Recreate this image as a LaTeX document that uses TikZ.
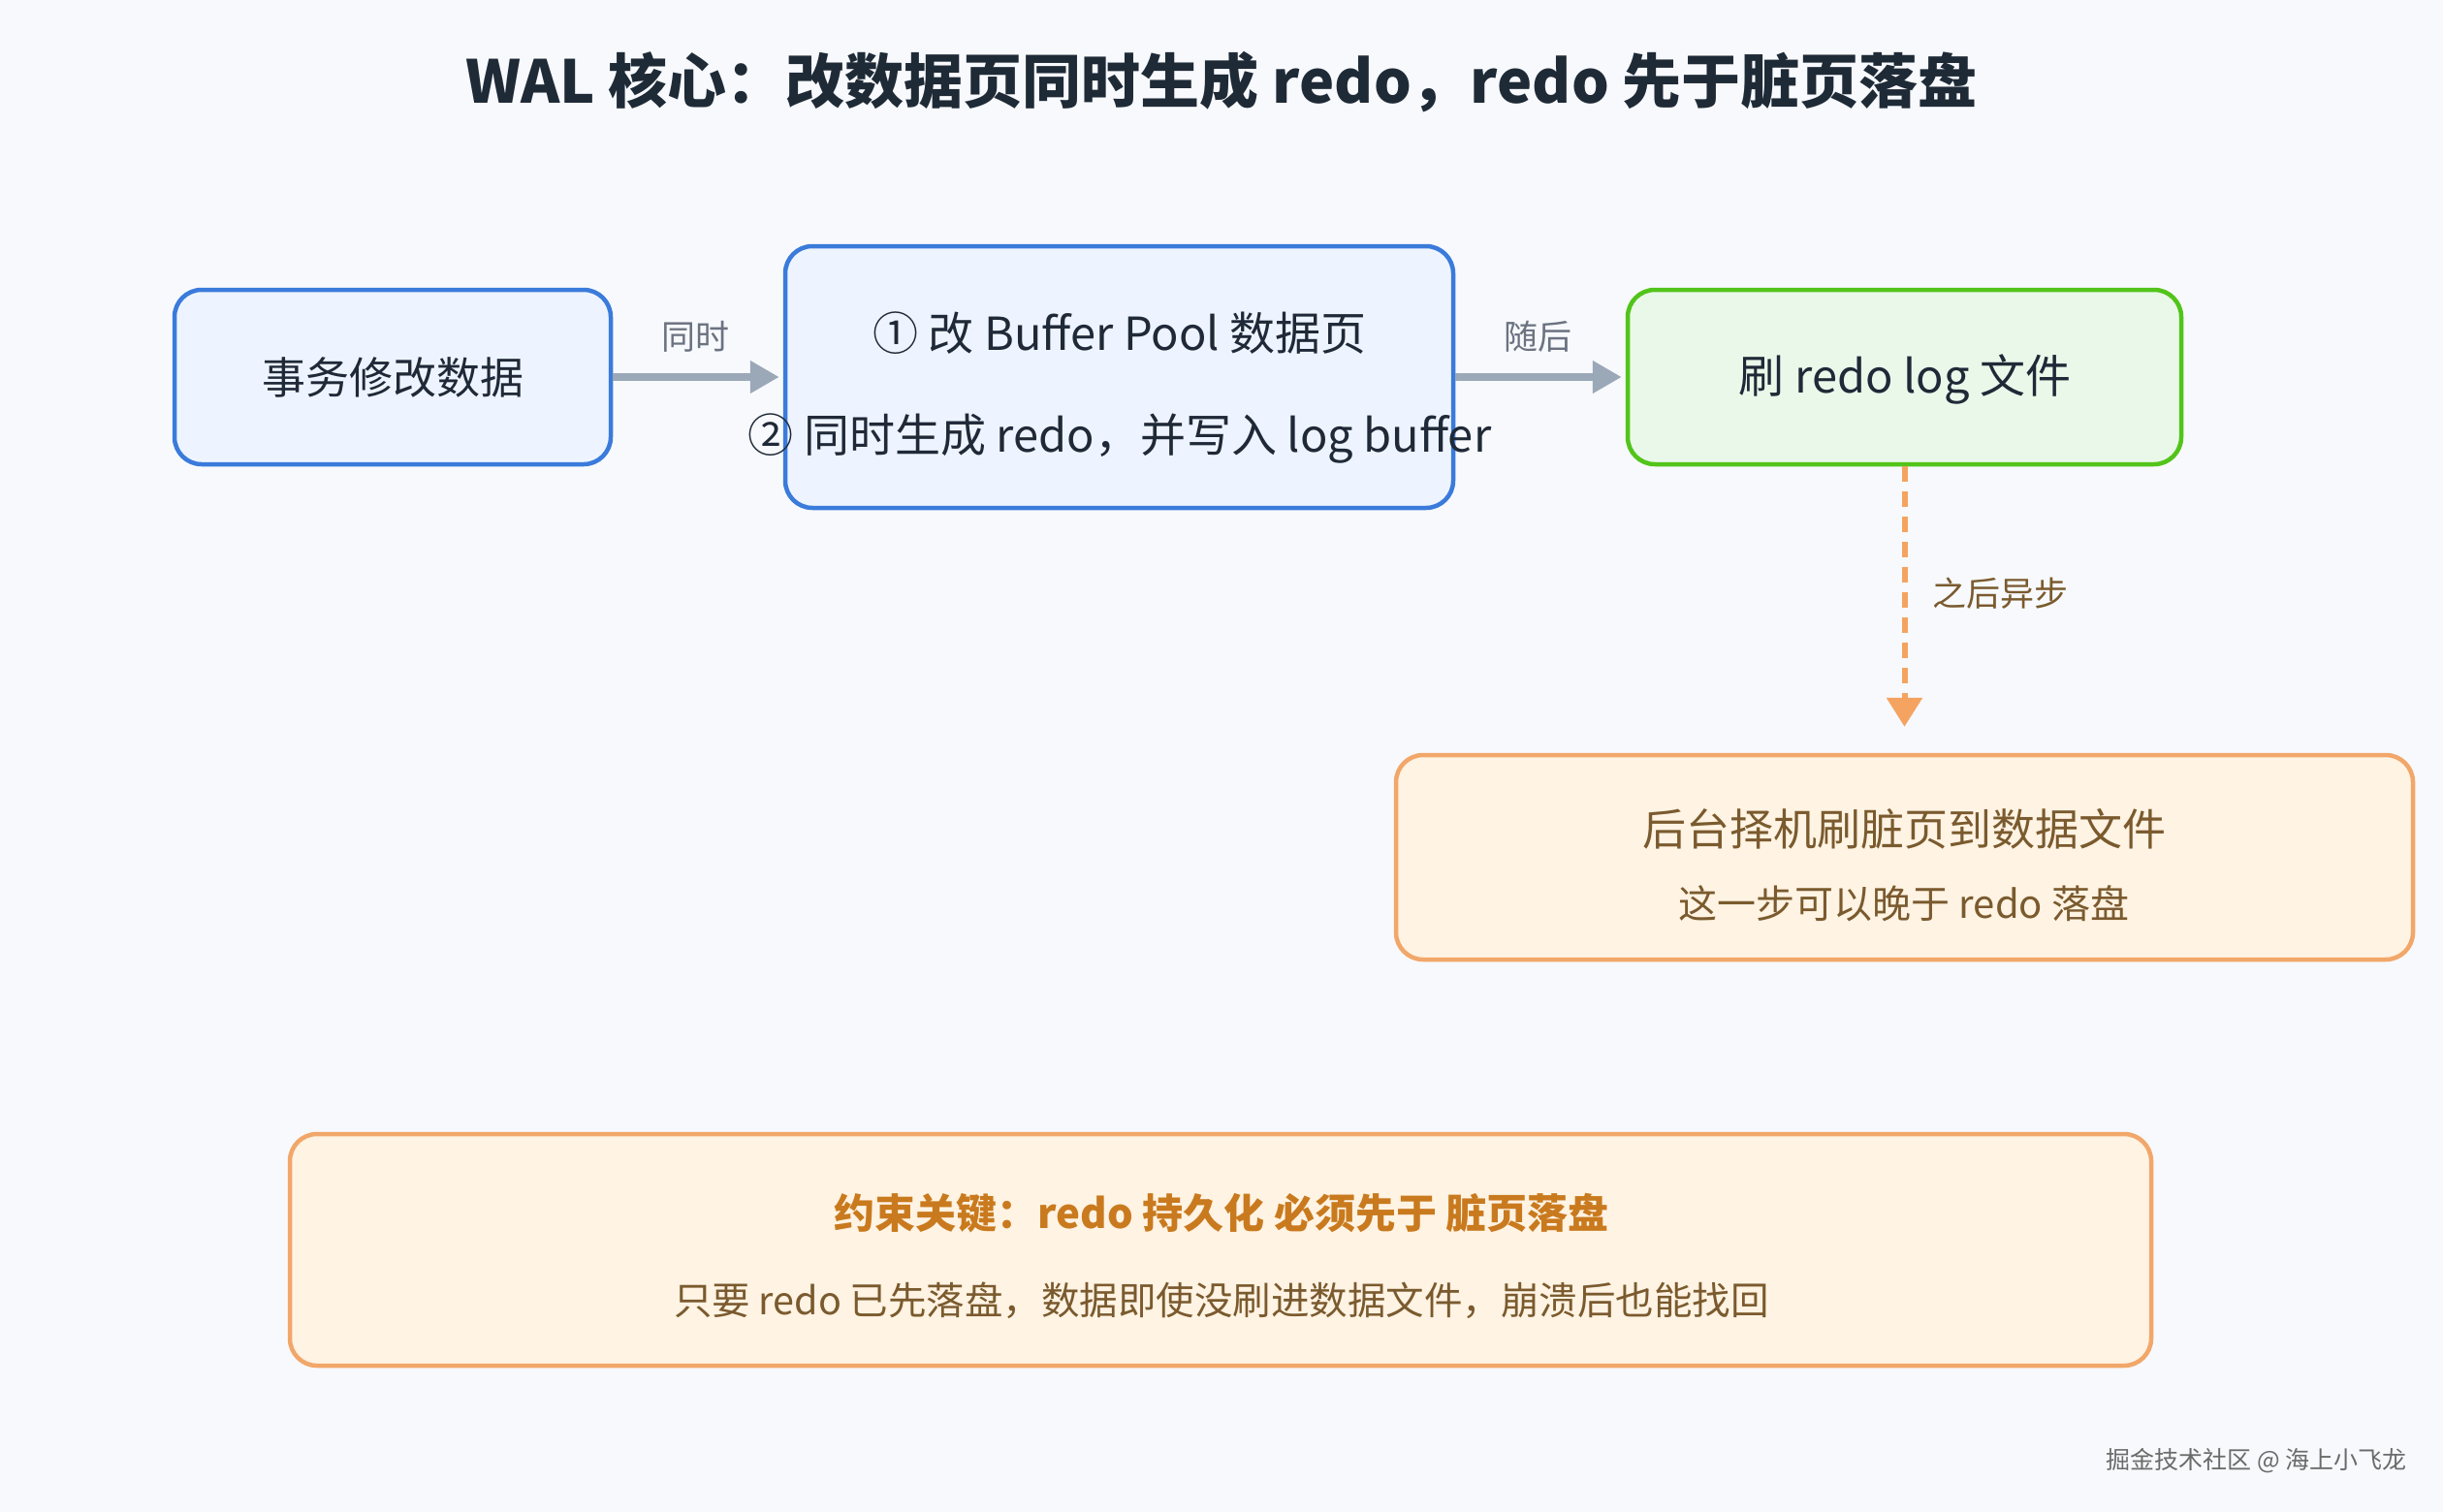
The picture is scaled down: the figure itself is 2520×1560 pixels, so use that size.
\documentclass[tikz,border=0pt]{standalone}
\usepackage{fontspec}
\setmainfont{Noto Sans CJK SC}
\usetikzlibrary{arrows.meta}
\definecolor{bg}{HTML}{F7F9FC}
\definecolor{titlec}{HTML}{1F2A37}
\definecolor{darktext}{HTML}{1F2937}
\definecolor{bluefill}{HTML}{EEF4FF}
\definecolor{blueline}{HTML}{3A7BDB}
\definecolor{greenfill}{HTML}{EAF8EA}
\definecolor{greenline}{HTML}{52C41A}
\definecolor{orangefill}{HTML}{FFF3E3}
\definecolor{orangeline}{HTML}{F2A76A}
\definecolor{arrowgray}{HTML}{9AA8B8}
\definecolor{labelgray}{HTML}{6B7280}
\definecolor{browntext}{HTML}{7A5A2E}
\definecolor{boldorange}{HTML}{C97A1E}
\definecolor{dashorange}{HTML}{F4A460}
\definecolor{wmgray}{HTML}{6B6B6B}
\begin{document}
\begin{tikzpicture}[x=1pt,y=-1pt,
  box/.style={draw, rounded corners=28pt, line width=4.5pt, inner sep=0pt},
  bluebox/.style={box, draw=blueline, fill=bluefill},
  greenbox/.style={box, draw=greenline, fill=greenfill},
  orangebox/.style={box, draw=orangeline, fill=orangefill},
  maintext/.style={text=darktext, font=\fontsize{45pt}{54pt}\selectfont, inner sep=0pt},
  mixtext/.style={text=darktext, font=\fontsize{47pt}{56pt}\selectfont, inner sep=0pt},
  edgelabel/.style={text=labelgray, font=\fontsize{35pt}{42pt}\selectfont, inner sep=0pt},
  grayarrow/.style={draw=arrowgray, line width=8pt, -{Triangle[length=30pt,width=32pt]}},
]
\fill[bg] (0,0) rectangle (2520,1560);
\useasboundingbox (0,0) rectangle (2520,1560);

\node[text=titlec, font=\fontsize{61pt}{72pt}\selectfont\bfseries, inner sep=0pt] (title) at (1260,85) {WAL 核心：改数据页同时生成 redo，redo 先于脏页落盘};

\node[bluebox, minimum width=450pt, minimum height=180pt] (b1) at (405,389) {};
\node[maintext] (t1) at (405,389) {事务修改数据};

\node[bluebox, minimum width=689pt, minimum height=270pt] (b2) at (1154.5,389) {};
\node[mixtext] (t2a) at (1155,344) {① 改 Buffer Pool 数据页};
\node[mixtext] (t2b) at (1155,452) {② 同时生成 redo，并写入 log buffer};

\node[greenbox, minimum width=571pt, minimum height=180pt] (b3) at (1964.5,389) {};
\node[mixtext] (t3) at (1965,391) {刷 redo log 文件};

\node[orangebox, minimum width=1049pt, minimum height=211pt] (b4) at (1964.5,884.5) {};
\node[text=browntext, font=\fontsize{45pt}{54pt}\selectfont, inner sep=0pt] (t4a) at (1964,855) {后台择机刷脏页到数据文件};
\node[text=browntext, font=\fontsize{40pt}{48pt}\selectfont, inner sep=0pt] (t4b) at (1964,932) {这一步可以晚于 redo 落盘};

\node[orangebox, minimum width=1920pt, minimum height=239pt] (b5) at (1259,1289.5) {};
\node[text=boldorange, font=\fontsize{42pt}{50pt}\selectfont\bfseries, inner sep=0pt] (t5a) at (1260,1252) {约束关键：redo 持久化 必须先于 脏页落盘};
\node[text=browntext, font=\fontsize{39.5pt}{48pt}\selectfont, inner sep=0pt] (t5b) at (1260,1342) {只要 redo 已先落盘，数据即使没刷进数据文件，崩溃后也能找回};

\draw[grayarrow, shorten >=4pt] (b1.east) -- (b2.west);
\node[edgelabel] (l1) at (717,347) {同时};
\draw[grayarrow, shorten >=4pt] (b2.east) -- (b3.west);
\node[edgelabel] (l2) at (1586,347) {随后};

\draw[draw=dashorange, line width=6pt, dash pattern=on 16pt off 10pt, shorten >=27pt,
  -{Triangle[length=30pt,width=36pt]}] (b3.south) -- (b4.north);
\node[text=browntext, font=\fontsize{35pt}{42pt}\selectfont, inner sep=0pt, anchor=west] (l3) at (1993,612) {之后异步};

\node[text=wmgray, font=\fontsize{25pt}{30pt}\selectfont, inner sep=0pt, anchor=east] (wm) at (2483,1507) {掘金技术社区 @ 海上小飞龙};
\end{tikzpicture}
\end{document}
